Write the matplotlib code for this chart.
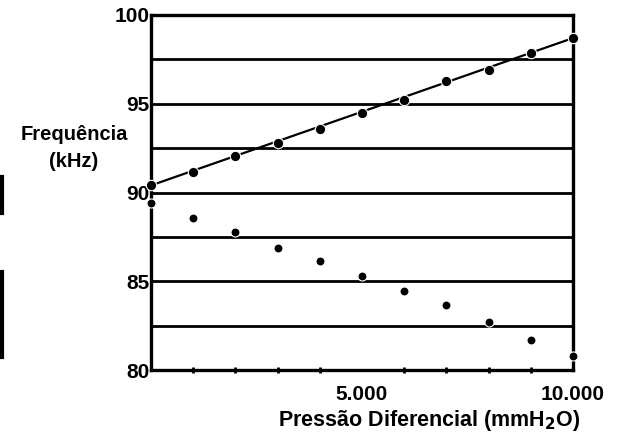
import matplotlib
matplotlib.use("Agg")
import matplotlib.pyplot as plt
from matplotlib.lines import Line2D

# pressure steps (mmH2O)
pressao = [0, 1000, 2000, 3000, 4000, 5000, 6000, 7000, 8000, 9000, 10000]
# upper series (with fitted line)
freq_sup = [90.4, 91.15, 92.05, 92.8, 93.6, 94.5, 95.2, 96.3, 96.9, 97.85, 98.7]
# lower series (points only)
freq_inf = [89.4, 88.55, 87.75, 86.85, 86.15, 85.3, 84.45, 83.65, 82.7, 81.7, 80.8]

y_ticks = [80, 85, 90, 95, 100]
grid_y = [82.5, 85, 87.5, 90, 92.5, 95, 97.5]
x_ticks = [5000, 10000]
x_labels = ["5.000", "10.000"]

plt.rcParams['font.family'] = ['Liberation Sans', 'DejaVu Sans']
plt.rcParams['font.weight'] = 'bold'

fig = plt.figure(figsize=(6.17, 4.47), dpi=100)
ax = fig.add_axes([151/617, 1 - 370/447, 422/617, 355/447])

for g in grid_y:
    ax.axhline(g, color='black', lw=2.0, zorder=1)

ax.plot([pressao[0], pressao[-1]], [freq_sup[0], freq_sup[-1]], color='black', lw=1.6, zorder=2, clip_on=False)
ax.plot(pressao, freq_sup, 'o', color='black', ms=7.5, mec='white', mew=0.8, zorder=3, clip_on=False)
ax.plot(pressao, freq_inf, 'o', color='black', ms=6.5, mec='white', mew=0.8, zorder=3, clip_on=False)

ax.set_xlim(0, 10000)
ax.set_ylim(80, 100)
for s in ax.spines.values():
    s.set_linewidth(2.4)

ax.set_yticks(y_ticks)
ax.set_yticklabels([str(v) for v in y_ticks], fontsize=15, fontweight='bold')
ax.set_xticks(x_ticks)
ax.set_xticklabels(x_labels, fontsize=15, fontweight='bold')
ax.set_xticks(pressao[1:], minor=True)
ax.tick_params(axis='y', length=0, pad=1)
ax.tick_params(axis='x', which='major', length=0, pad=11)
ax.tick_params(axis='x', which='minor', length=5, width=2, direction='inout')

ax.set_xlabel("Pressão Diferencial (mmH$_2$O)", fontsize=15.5, fontweight='bold')
ax.xaxis.set_label_coords(0.66, -0.142)
ax.xaxis.label.set_va('center')
fig.text(74/617, 1 - 148/447, "Frequência\n(kHz)", ha='center', va='center',
         fontsize=14.5, fontweight='bold', linespacing=1.5)

# scan edge marks at the left border
fig.add_artist(Line2D([1.5/617, 1.5/617], [1 - 177/447, 1 - 213/447], color='black', lw=3))
fig.add_artist(Line2D([1.5/617, 1.5/617], [1 - 272/447, 1 - 357/447], color='black', lw=3))

fig.savefig("out.png", dpi=100)
